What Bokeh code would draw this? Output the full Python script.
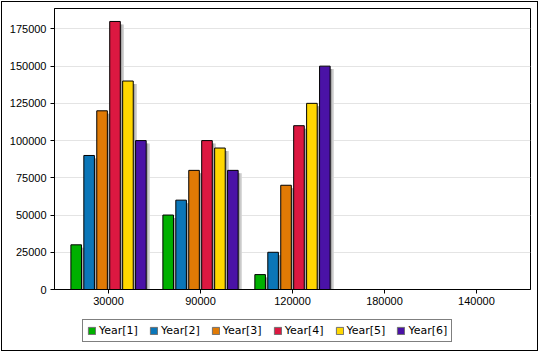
from bokeh.plotting import figure
from bokeh.layouts import column
from bokeh.models import (ColumnDataSource, FactorRange, Range1d, Legend, LegendItem,
                          SingleIntervalTicker, NumeralTickFormatter, InlineStyleSheet)
from bokeh.transform import dodge
from bokeh.embed import file_html
from bokeh.resources import INLINE

categories = ["30000", "90000", "120000", "180000", "140000"]
series_names = ["Year[1]", "Year[2]", "Year[3]", "Year[4]", "Year[5]", "Year[6]"]
year1 = [30000, 50000, 10000, 0, 0]
year2 = [90000, 60000, 25000, 0, 0]
year3 = [120000, 80000, 70000, 0, 0]
year4 = [180000, 100000, 110000, 0, 0]
year5 = [140000, 95000, 125000, 0, 0]
year6 = [100000, 80000, 150000, 0, 0]
colors = ["#00b000", "#0b76b8", "#e07a05", "#dc1841", "#ffd700", "#4a12a6"]
series = [year1, year2, year3, year4, year5, year6]

TICK_FONT = "Liberation Sans"
LEG_FONT = "DejaVu Sans"

top_css = InlineStyleSheet(css=""":host { position: relative; }
:host::after { content: ''; position: absolute; left: 1px; top: 1px; right: 1px; bottom: 0;
  border: 1px solid black; border-bottom: 0; pointer-events: none; z-index: 100; }""")
bot_css = InlineStyleSheet(css=""":host { position: relative; }
:host::after { content: ''; position: absolute; left: 1px; top: 0; right: 1px; bottom: 1px;
  border: 1px solid black; border-top: 0; pointer-events: none; z-index: 100; }""")

p = figure(width=539, height=316, x_range=FactorRange(*categories, range_padding=0.035),
           y_range=Range1d(0, 188700), output_backend="svg", toolbar_location=None,
           min_border_left=54, min_border_right=9, min_border_top=8, min_border_bottom=27,
           stylesheets=[top_css])
p.outline_line_color = "black"
p.background_fill_color = "white"
p.border_fill_color = "white"

src = {"cat": categories}
for i, s in enumerate(series):
    src["y%d" % i] = s
    src["s%d" % i] = [v - 2000 if v > 2000 else 0 for v in s]
source = ColumnDataSource(src)

pitch = 0.1407
bw = 0.115
renderers = []
for i in range(6):
    off = (i - 2.5) * pitch
    p.vbar(x=dodge("cat", off + 0.04, range=p.x_range), top="s%d" % i, width=bw,
           source=source, fill_color="#d2d2d2", line_color=None)
    p.vbar(x=dodge("cat", off + 0.022, range=p.x_range), top="s%d" % i, width=bw,
           source=source, fill_color="#a9a9a9", line_color=None)
for i in range(6):
    off = (i - 2.5) * pitch
    r = p.vbar(x=dodge("cat", off, range=p.x_range), top="y%d" % i, width=bw,
               source=source, fill_color=colors[i], line_color="black", line_width=1)
    renderers.append(r)

p.xgrid.visible = False
p.ygrid.grid_line_color = "#e4e4e4"
p.yaxis.ticker = SingleIntervalTicker(interval=25000)
p.yaxis.formatter = NumeralTickFormatter(format="0")
for ax in (p.xaxis[0], p.yaxis[0]):
    ax.axis_line_color = "black"
    ax.major_tick_line_color = "black"
    ax.minor_tick_line_color = None
    ax.major_tick_out = 4
    ax.major_tick_in = 0
    ax.major_label_text_font = TICK_FONT
    ax.major_label_text_font_size = "11px"
    ax.major_label_text_color = "black"
p.xaxis.major_label_standoff = 3
p.yaxis.major_label_standoff = 4

# legend strip below the chart
lg = figure(width=539, height=36, x_range=Range1d(0, 1), y_range=Range1d(0, 1),
            output_backend="svg", toolbar_location=None,
            min_border_left=0, min_border_right=0, min_border_top=0, min_border_bottom=0,
            stylesheets=[bot_css])
lg.axis.visible = False
lg.grid.visible = False
lg.outline_line_color = None
lg.border_fill_color = "white"
lrs = []
for i in range(6):
    lrs.append(lg.vbar(x=[float("nan")], top=[float("nan")], width=0.1,
                       fill_color=colors[i], line_color="#707070"))
legend = Legend(items=[LegendItem(label=series_names[i], renderers=[lrs[i]]) for i in range(6)],
                orientation="horizontal", location=(28, 10),
                label_text_font=LEG_FONT, label_text_font_size="11px", label_text_color="black",
                glyph_width=9, glyph_height=9, label_standoff=3, spacing=11,
                padding=4, margin=0, border_line_color="black",
                label_height=12)
lg.add_layout(legend, "center")

layout = column(p, lg, spacing=0)

open("out.html", "w").write(file_html(layout, INLINE))
